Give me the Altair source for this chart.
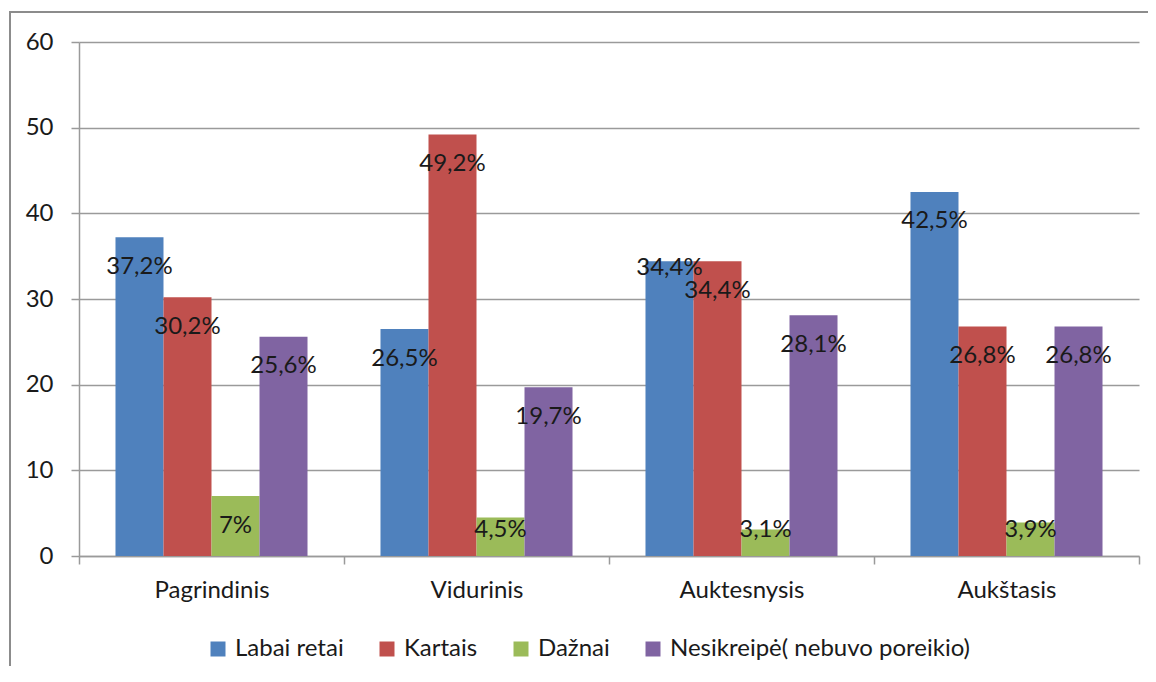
import altair as alt
import pandas as pd

categories = ["Pagrindinis", "Vidurinis", "Auktesnysis", "Aukštasis"]
series = ["Labai retai", "Kartais", "Dažnai", "Nesikreipė( nebuvo poreikio)"]
colors = ["#4F81BD", "#C0504D", "#9BBB59", "#8064A2"]

labai_retai = [37.2, 26.5, 34.4, 42.5]
kartais = [30.2, 49.2, 34.4, 26.8]
daznai = [7.0, 4.5, 3.1, 3.9]
nesikreipe = [25.6, 19.7, 28.1, 26.8]

labels_lr = ["37,2%", "26,5%", "34,4%", "42,5%"]
labels_k = ["30,2%", "49,2%", "34,4%", "26,8%"]
labels_d = ["7%", "4,5%", "3,1%", "3,9%"]
labels_n = ["25,6%", "19,7%", "28,1%", "26,8%"]

rows = []
for s, vals, labs in zip(series, [labai_retai, kartais, daznai, nesikreipe],
                         [labels_lr, labels_k, labels_d, labels_n]):
    for c, v, l in zip(categories, vals, labs):
        rows.append({"category": c, "series": s, "value": v, "label": l})
df = pd.DataFrame(rows)

FONT = "Lato"
FS = 24
TXT = "#1a1a1a"
GRAY = "#9a9a9a"

x_enc = alt.X("category:N", sort=categories, title=None,
              scale=alt.Scale(paddingInner=0, paddingOuter=0),
              axis=alt.Axis(labelAngle=0, tickBand="extent", labelPadding=14,
                            labelFontSize=FS, labelFont=FONT, labelColor=TXT,
                            domainColor=GRAY, tickColor=GRAY,
                            tickSize=8, domainWidth=1.5, tickWidth=1.5, grid=False))
xoff = alt.XOffset("series:N", sort=series,
                   scale=alt.Scale(paddingInner=0, paddingOuter=0.76))
y_enc = alt.Y("value:Q", title=None,
              scale=alt.Scale(domain=[0, 60]),
              axis=alt.Axis(values=[0, 10, 20, 30, 40, 50, 60], labelPadding=18,
                            labelFontSize=FS, labelFont=FONT, labelColor=TXT,
                            gridColor=GRAY, gridWidth=1.5,
                            domainColor=GRAY, tickColor=GRAY,
                            tickSize=8, domainWidth=1.5, tickWidth=1.5))

base = alt.Chart(df)

bars = base.mark_bar().encode(
    x=x_enc,
    xOffset=xoff,
    y=y_enc,
    color=alt.Color("series:N", sort=series,
                    scale=alt.Scale(domain=series, range=colors),
                    legend=alt.Legend(title=None, orient="none", legendX=127, legendY=595,
                                      direction="horizontal", symbolType="square",
                                      symbolSize=225, symbolStrokeWidth=0,
                                      labelFontSize=FS, labelFont=FONT, labelColor=TXT,
                                      labelLimit=0, columnPadding=31, labelOffset=5)),
)

texts = base.transform_calculate(
    ly="(datum.category == 'Auktesnysis' && datum.series == 'Labai retai') ? datum.value - 0.75 : max(datum.value - 3.45, 3.0)"
).mark_text(baseline="middle", align="center",
            font=FONT, fontSize=FS, color=TXT).encode(
    x=alt.X("category:N", sort=categories),
    xOffset=alt.XOffset("series:N", sort=series),
    y="ly:Q",
    text="label:N",
)

frame = alt.Chart(alt.Data(values=[{"a": 1}])).mark_rect(
    filled=False, stroke="#8c8c8c", strokeWidth=2).encode(
    x=alt.value(-69), x2=alt.value(1120), y=alt.value(-30), y2=alt.value(700))

chart = alt.layer(frame, bars, texts).properties(
    width=1060, height=514,
    autosize=alt.AutoSizeParams(type="none"),
    padding={"left": 71, "top": 34, "right": 9, "bottom": 110},
).configure_view(stroke=None)

chart.save("out.html", embed_options={"renderer": "svg", "actions": False})
